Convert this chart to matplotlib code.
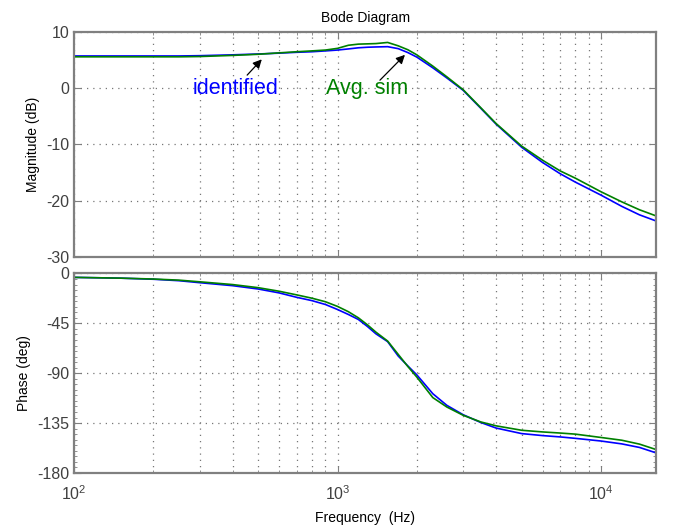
import numpy as np
import matplotlib.pyplot as plt
from matplotlib.ticker import MultipleLocator, LogLocator, NullFormatter

plt.rcParams['font.family'] = ['Liberation Sans', 'DejaVu Sans']
plt.rcParams['axes.unicode_minus'] = False

# Data
freq = [100, 150, 200, 250, 300, 400, 500, 600, 700, 800, 900, 1000, 1100, 1200,
        1300, 1400, 1550, 1700, 1850, 2000, 2300, 2600, 3000, 3500, 4000, 5000,
        6000, 7000, 8000, 10000, 12000, 14000, 16000]

mag_ident = [5.7, 5.7, 5.7, 5.7, 5.75, 5.9, 6.05, 6.2, 6.35, 6.45, 6.6, 6.75, 6.95, 7.15,
             7.25, 7.3, 7.35, 7.0, 6.3, 5.5, 3.6, 1.8, -0.4, -3.6, -6.4, -10.5,
             -13.2, -15.2, -16.7, -19.0, -21.0, -22.5, -23.5]
mag_sim = [5.55, 5.55, 5.55, 5.55, 5.6, 5.8, 6.0, 6.25, 6.45, 6.6, 6.75, 7.05, 7.6, 7.8,
           7.85, 7.9, 8.1, 7.5, 6.8, 5.9, 3.9, 2.0, -0.3, -3.5, -6.3, -10.3,
           -12.8, -14.7, -16.0, -18.4, -20.2, -21.6, -22.6]

phase_ident = [-3.5, -4.2, -5.2, -6.5, -8.3, -11, -14, -17.5, -21.5, -24.5, -28, -32.5, -37, -41.5,
               -47.9, -54.5, -61.5, -74.5, -83.5, -91.5, -108.5, -119, -127.5, -134.5, -139.5,
               -144.5, -146.3, -147.5, -148.8, -151.2, -153.8, -157, -161.5]
phase_sim = [-3.5, -4.2, -5.0, -6.0, -7.5, -10, -12.8, -16, -19.3, -22.3, -25.5, -29.7, -34.5, -40,
             -46.4, -53, -61, -73, -84, -93.5, -112, -120.5, -128, -134, -137.5,
             -141.5, -143, -144, -145, -148, -150.5, -154, -158.5]

blue = '#0000ff'
green = '#008000'
frame = '#808080'
tickc = '#404040'
dots = (0, (1, 4))

fig = plt.figure(figsize=(6.73, 5.29), dpi=100)
ax1 = fig.add_axes([0.110, 0.514, 0.865, 0.426])
ax2 = fig.add_axes([0.110, 0.106, 0.865, 0.377])

for ax in (ax1, ax2):
    ax.set_xscale('log')
    ax.set_xlim(100, 16200)
    ax.grid(True, which='major', axis='both', linestyle=dots, color='#777777', linewidth=0.9)
    ax.grid(True, which='minor', axis='x', linestyle=dots, color='#777777', linewidth=0.9)
    for s in ax.spines.values():
        s.set_color(frame)
        s.set_linewidth(1.6)
    ax.tick_params(which='both', direction='in', top=True, right=True, colors=frame,
                   labelcolor=tickc, labelsize=11.5)
    ax.tick_params(which='major', length=5)
    ax.tick_params(which='minor', length=2.5)
    ax.xaxis.set_minor_locator(LogLocator(base=10, subs=np.arange(2, 10)))
    ax.xaxis.set_minor_formatter(NullFormatter())

ax1.plot(freq, mag_ident, color=blue, linewidth=1.2)
ax1.plot(freq, mag_sim, color=green, linewidth=1.2)
ax1.set_ylim(-30, 10)
ax1.set_yticks([10, 0, -10, -20, -30])
ax1.tick_params(axis='x', which='both', labelbottom=False)
ax1.set_ylabel('Magnitude (dB)', fontsize=10)
ax1.set_title('Bode Diagram', fontsize=10, pad=7)

arrow = dict(arrowstyle='-|>', color='black', lw=0.9, shrinkA=0, shrinkB=0, mutation_scale=13)
ax1.text(412, 0, 'identified', color=blue, fontsize=15.5, ha='center', va='center')
ax1.annotate('', xy=(516, 5.1), xytext=(454, 2.3), arrowprops=arrow)
ax1.text(1290, 0, 'Avg. sim', color=green, fontsize=15.5, ha='center', va='center')
ax1.annotate('', xy=(1803, 5.9), xytext=(1449, 1.4), arrowprops=arrow)

ax2.plot(freq, phase_ident, color=blue, linewidth=1.2)
ax2.plot(freq, phase_sim, color=green, linewidth=1.2)
ax2.set_ylim(-180, 0)
ax2.set_yticks([0, -45, -90, -135, -180])
ax2.yaxis.set_minor_locator(MultipleLocator(5))
ax2.tick_params(axis='x', which='major', pad=8)
ax2.set_ylabel('Phase (deg)', fontsize=10)
ax2.set_xlabel('Frequency  (Hz)', fontsize=10, labelpad=6)

fig.savefig('out.png', dpi=100)
